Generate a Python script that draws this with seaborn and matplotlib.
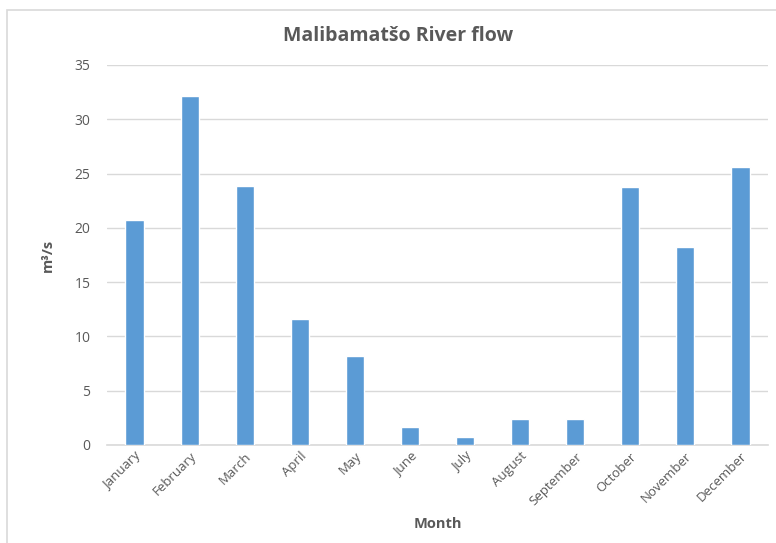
import matplotlib
matplotlib.use("Agg")
import matplotlib.pyplot as plt
import seaborn as sns
import pandas as pd
from matplotlib.patches import Rectangle

months = ["January", "February", "March", "April", "May", "June", "July",
          "August", "September", "October", "November", "December"]
flow = [20.7, 32.1, 23.9, 11.6, 8.2, 1.7, 0.75, 2.4, 2.4, 23.8, 18.2, 25.6]
yticks = [0, 5, 10, 15, 20, 25, 30, 35]

sns.set_theme(style="white")
plt.rcParams['font.family'] = ['Open Sans', 'DejaVu Sans']

df = pd.DataFrame({"Month": months, "Flow": flow})

fig = plt.figure(figsize=(7.76, 5.43), dpi=100)
fig.patches.append(Rectangle((7/776, -0.1), 1.2, 1 - 10/543 + 0.1, transform=fig.transFigure,
                             fill=False, edgecolor="#D9D9D9", linewidth=1.2))
ax = fig.add_axes([107/776, 1 - 445/543, (768 - 107)/776, (445 - 65)/543])

sns.barplot(data=df, x="Month", y="Flow", color="#5B9BD5", width=0.33,
            saturation=1, ax=ax, zorder=3)

ax.set_ylim(0, 35)
ax.set_yticks(yticks)
ax.yaxis.grid(True, color="#D9D9D9", linewidth=1, zorder=0)
ax.xaxis.grid(False)
for s in ["top", "right", "left"]:
    ax.spines[s].set_visible(False)
ax.spines["bottom"].set_color("#D9D9D9")
ax.spines["bottom"].set_linewidth(1.2)
ax.tick_params(axis="both", length=0, colors="#595959", labelsize=9.5)
ax.tick_params(axis="y", pad=12, labelsize=10)
plt.setp(ax.get_xticklabels(), rotation=45, ha="right", rotation_mode="anchor")

ax.set_xlabel("Month", fontsize=10.5, fontweight="bold", color="#595959", labelpad=7)
ax.set_ylabel("m³/s", fontsize=10.5, fontweight="bold", color="#595959", labelpad=14)
fig.text(398/776, 1 - 36/543, "Malibamatšo River flow", ha="center", va="center",
         fontsize=14, fontweight="bold", color="#595959")

fig.savefig("out.png", dpi=100)
